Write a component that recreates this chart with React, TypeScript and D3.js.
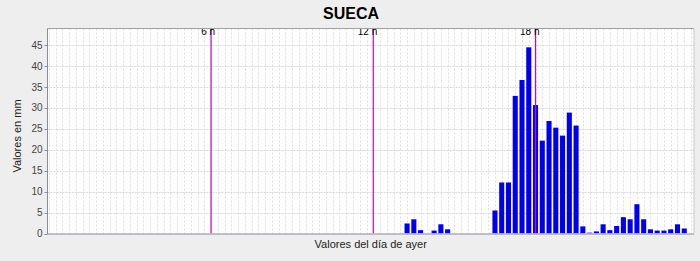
import React from "react";
import * as d3 from "d3";

const W = 700;
const H = 261;

// 96 quarter-hour categories of the day
const categories: string[] = Array.from({ length: 96 }, (_, i) => {
  const h = Math.floor(i / 4);
  const m = (i % 4) * 15;
  return `${String(h).padStart(2, "0")}:${String(m).padStart(2, "0")}`;
});

// rainfall in mm per category (index -> value); all others are 0
const rainIndex: number[] = [53, 54, 55, 57, 58, 59, 66, 67, 68, 69, 70, 71, 72, 73, 74, 75, 76, 77, 78, 79, 80, 81, 82, 83, 84, 85, 86, 87, 88, 89, 90, 91, 92, 93, 94];
const rainValue: number[] = [2.4, 3.4, 0.8, 0.7, 2.2, 1.0, 5.5, 12.2, 12.2, 32.9, 36.7, 44.5, 30.7, 22.2, 26.9, 25.3, 23.4, 28.9, 25.8, 1.7, 0.2, 0.5, 2.2, 0.8, 1.8, 3.9, 3.4, 7.0, 3.4, 1.0, 0.7, 0.7, 1.0, 2.2, 1.2];

const values: number[] = categories.map((_, i) => {
  const k = rainIndex.indexOf(i);
  return k >= 0 ? rainValue[k] : 0;
});

const yTicks: number[] = [0, 5, 10, 15, 20, 25, 30, 35, 40, 45];
const markerLabels: string[] = ["6 h", "12 h", "18 h"];
const markerCats: string[] = ["06:00", "12:00", "18:00"];

const title = "SUECA";
const yTitle = "Valores en mm";
const xTitle = "Valores del día de ayer";

export default function App() {
  const plotL = 47.5;
  const plotR = 694;
  const plotT = 28.5;
  const plotB = 233.5;

  const step = 6.76;
  const c0 = 48.8;
  const x = d3
    .scaleBand<string>()
    .domain(categories)
    .range([c0 - step / 2, c0 + (categories.length - 0.5) * step])
    .paddingInner(0.25)
    .paddingOuter(0.125);
  const y = d3.scaleLinear().domain([0, 49]).range([plotB, plotT]);
  const bw = x.bandwidth();
  const cx = (c: string) => (x(c) as number) + bw / 2;

  const font = "'Liberation Sans', Arial, sans-serif";

  return (
    <svg
      width={W}
      height={H}
      style={{ position: "absolute", left: 0, top: 0, display: "block" }}
      fontFamily={font}
    >
      <defs>
        <clipPath id="plotclip">
          <rect x={plotL} y={plotT} width={plotR - plotL} height={plotB - plotT} />
        </clipPath>
      </defs>
      <rect x={0} y={0} width={W} height={H} fill="#eeeeee" />
      <text x={351} y={19} textAnchor="middle" fontSize={16} fontWeight="bold" fill="#000">
        {title}
      </text>
      <rect x={plotL} y={plotT} width={plotR - plotL} height={plotB - plotT} fill="#ffffff" />
      <g clipPath="url(#plotclip)">
        {categories.map((c) => (
          <line
            key={"vg" + c}
            x1={Math.round(cx(c)) + 0.5}
            x2={Math.round(cx(c)) + 0.5}
            y1={plotT}
            y2={plotB}
            stroke="#dcdcdc"
            strokeWidth={1}
            strokeDasharray="2,2"
          />
        ))}
        {yTicks.map((t) => (
          <line
            key={"hg" + t}
            x1={plotL}
            x2={plotR}
            y1={Math.round(y(t)) + 0.5}
            y2={Math.round(y(t)) + 0.5}
            stroke="#d8d8d8"
            strokeWidth={1}
            strokeDasharray="2,1"
          />
        ))}
        {categories.map((c, i) =>
          values[i] > 0 ? (
            <rect
              key={"b" + c}
              x={x(c) as number}
              y={y(values[i])}
              width={bw}
              height={plotB - y(values[i])}
              fill="#0000ee"
            />
          ) : null
        )}
        {markerCats.map((c, i) => (
          <g key={"m" + c}>
            <line
              x1={cx(c)}
              x2={cx(c)}
              y1={plotT}
              y2={plotB}
              stroke="#cc00cc"
              strokeWidth={1.2}
            />
            <text x={cx(c) + 4} y={34.5} textAnchor="end" fontSize={10} fill="#000">
              {markerLabels[i]}
            </text>
          </g>
        ))}
      </g>
      {/* plot outline */}
      <line x1={plotL} x2={plotR} y1={plotT} y2={plotT} stroke="#a0a0a0" />
      <line x1={plotR} x2={plotR} y1={plotT} y2={plotB} stroke="#c8c8c8" />
      {/* axes */}
      <line x1={plotL} x2={plotL} y1={plotT} y2={plotB + 0.5} stroke="#8a8aa0" />
      <line x1={plotL} x2={plotR} y1={plotB + 0.5} y2={plotB + 0.5} stroke="#8a8aa0" />
      {yTicks.map((t) => (
        <g key={"yt" + t}>
          <line x1={plotL - 3} x2={plotL} y1={Math.round(y(t)) + 0.5} y2={Math.round(y(t)) + 0.5} stroke="#8a8aa0" />
          <text x={plotL - 5} y={y(t) + 3.5} textAnchor="end" fontSize={10} fill="#444444">
            {t}
          </text>
        </g>
      ))}
      <text
        transform={`translate(21,${(plotT + plotB) / 2 + 5}) rotate(-90)`}
        textAnchor="middle"
        fontSize={11}
        fill="#222"
      >
        {yTitle}
      </text>
      <text x={(plotL + plotR) / 2} y={248} textAnchor="middle" fontSize={11} fill="#222">
        {xTitle}
      </text>
    </svg>
  );
}
